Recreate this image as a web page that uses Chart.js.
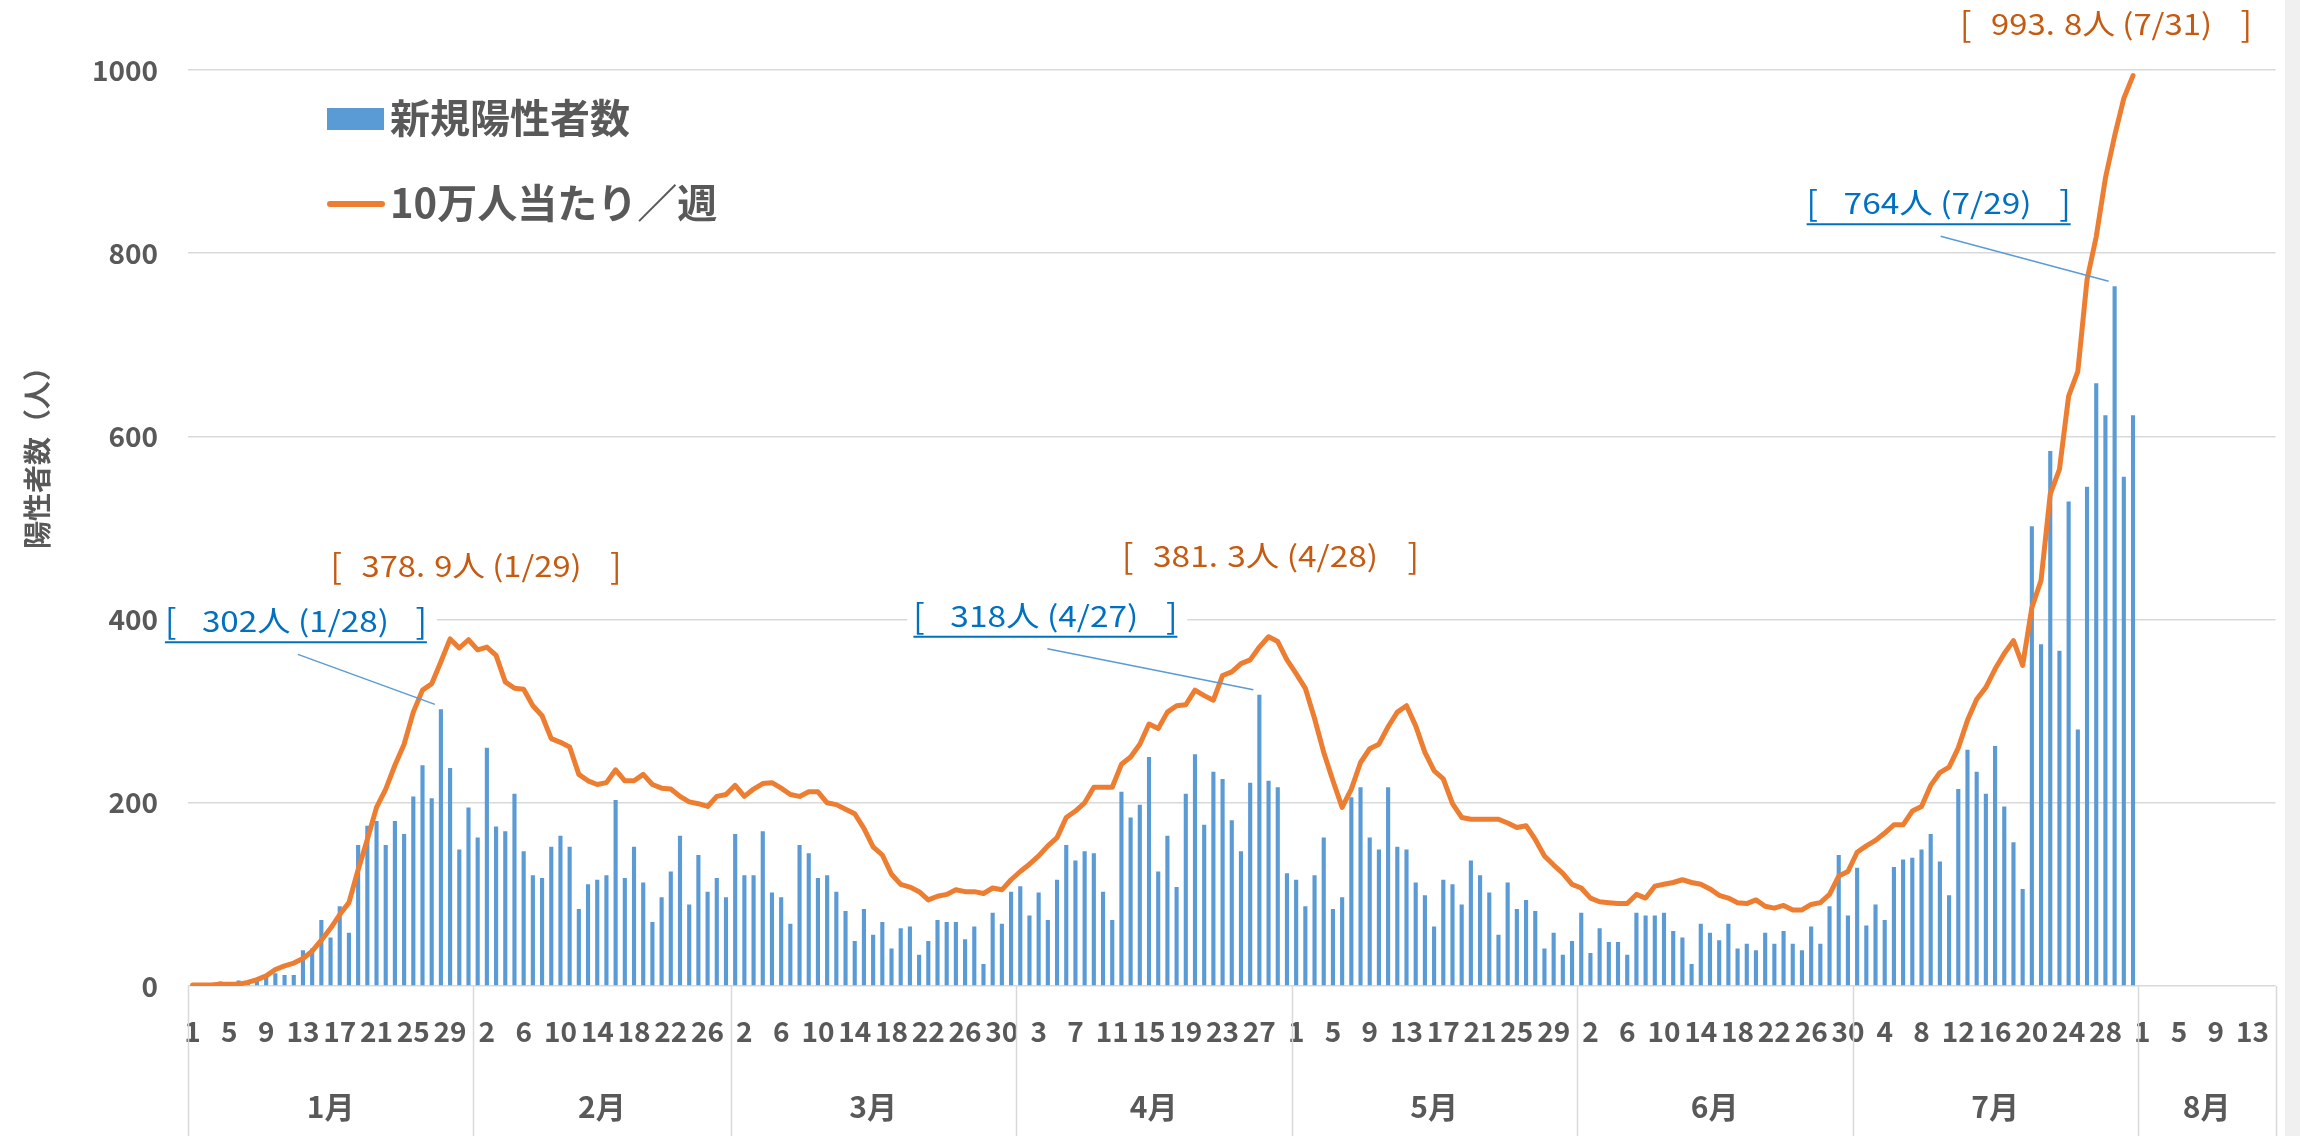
<!DOCTYPE html>
<html><head><meta charset="utf-8">
<script src="https://cdn.jsdelivr.net/npm/chart.js@4.4.1/dist/chart.umd.min.js"></script>
<style>
html,body{margin:0;padding:0;background:#fff;}
#wrap{position:relative;width:2300px;height:1136px;overflow:hidden;}
#edge{position:absolute;left:2285px;top:0;width:15px;height:1136px;background:#f0f0f0;}
</style></head><body>
<div id="wrap"><canvas id="c" width="2300" height="1136"></canvas><div id="edge"></div></div>
<script>
// ---------- data ----------
const MONTHS = ['1月','2月','3月','4月','5月','6月','7月','8月'];
const MONTH_DAYS = [31,28,31,30,31,30,31,15];
const TICK_STEP = 4;

const casesJan = [0,1,1,5,3,6,4,7,10,14,12,12,39,41,72,53,87,58,154,175,180,154,180,166,207,241,205,302,238,149,195];
const casesFeb = [162,260,174,169,210,147,121,118,152,164,152,84,111,116,121,203,118,152,113,70,97,125,164,89,143,103,118,97];
const casesMar = [166,121,121,169,102,97,68,154,145,118,121,103,82,49,84,56,70,41,63,65,34,49,72,70,70,51,65,24,80,68,103];
const casesApr = [109,77,102,72,116,154,137,147,145,103,72,212,184,198,250,125,164,108,210,253,176,234,226,181,147,222,318,224,217,123];
const casesMay = [116,87,121,162,84,97,206,217,162,149,217,152,149,113,99,65,116,111,89,137,121,102,56,113,84,94,82,41,58,34,49];
const casesJun = [80,36,63,48,48,34,80,77,77,80,60,53,24,68,58,50,68,41,46,39,58,46,60,46,39,65,46,87,143,77];
const casesJul = [129,66,89,72,130,138,140,149,166,136,99,215,258,234,210,262,196,157,106,502,373,584,366,529,280,545,658,623,764,556,623];

const rateJan = [1,1,1,2,2,2,4,7,11,18,22,25,30,38,50,63,78,91,127,160,195,215,241,264,299,323,330,354,378.9,369,378];
const rateFeb = [367,370,361,332,325,324,306,295,270,266,261,231,224,220,222,236,224,224,231,220,216,215,207,201,199,196,207,209];
const rateMar = [219,207,215,221,222,216,209,207,212,212,200,198,193,188,172,152,143,122,111,108,103,94,98,100,105,103,103,101,107,105,116];
const rateApr = [125,133,142,153,162,184,191,200,217,217,217,242,250,264,286,281,299,306,307,323,317,312,339,343,352,356,370,381.3,376,356];
const rateMay = [341,325,292,255,224,195,215,244,259,264,283,299,306,284,255,235,226,199,184,182,182,182,182,178,173,175,160,142,132,123,111];
const rateJun = [107,96,92,91,90,90,100,96,109,111,113,116,113,111,106,99,96,91,90,94,87,85,88,83,83,89,91,100,120,125];
const rateJul = [146,153,159,167,176,176,191,196,219,233,239,260,290,313,326,346,363,377,350,413,443,537,564,644,671,771,818,882,928,969,993.8];

const SERIES_BAR = '新規陽性者数';
const SERIES_LINE = '10万人当たり／週';
const Y_TITLE = '陽性者数（人）';

// annotation texts (value labels)
const NOTE_TEXTS = [
  {series:'bar',  month:0, day:28, text:'302人 (1/28)'},
  {series:'line', month:0, day:29, text:'378.\u20089人 (1/29)'},
  {series:'bar',  month:3, day:27, text:'318人 (4/27)'},
  {series:'line', month:3, day:28, text:'381.\u20083人 (4/28)'},
  {series:'bar',  month:6, day:29, text:'764人 (7/29)'},
  {series:'line', month:6, day:31, text:'993.\u20088人 (7/31)'}
];
// annotation layout (offsets from anchor, widths)
const NOTE_LAYOUT = [
  {dx:-145, dy:-88, w:262, inset:37, inner:187},
  {dx:26,   dy:-73, w:291, inset:31, inner:220},
  {dx:-214, dy:-79, w:264, inset:37, inner:188},
  {dx:2,    dy:-81, w:297, inset:31, inner:225},
  {dx:-176, dy:-83, w:264, inset:37, inner:188},
  {dx:-27,  dy:-52, w:292, inset:31, inner:221}
];

// ---------- build categories ----------
const dayLabels = [];
MONTH_DAYS.forEach((n)=>{ for(let d=1; d<=n; d++) dayLabels.push(String(d)); });
const augPad = new Array(MONTH_DAYS[7]).fill(null);
const barData = [].concat(casesJan,casesFeb,casesMar,casesApr,casesMay,casesJun,casesJul,augPad);
const lineData = [].concat(rateJan,rateFeb,rateMar,rateApr,rateMay,rateJun,rateJul,augPad);
function idxOf(m,d){ let s=0; for(let i=0;i<m;i++) s+=MONTH_DAYS[i]; return s+d-1; }

// ---------- styles ----------
const FONT = "'Noto Sans CJK JP','Noto Sans',sans-serif";
const C_BAR = '#5b9bd5', C_LINE = '#ed7d31', C_TEXT = '#595959', C_GRID = '#d9d9d9';
const C_NOTE_BAR = '#0070c0', C_NOTE_LINE = '#c55a11', C_LEADER = '#5b9bd5';

const decor = {
  id:'decor',
  afterDraw(chart){
    const {ctx, chartArea:ca, scales:{x,y}} = chart;
    ctx.save();
    // month separators + labels
    ctx.strokeStyle = C_GRID; ctx.lineWidth = 1.5;
    ctx.fillStyle = C_TEXT; ctx.font = 'bold 30px ' + FONT;
    ctx.textAlign = 'center'; ctx.textBaseline = 'middle';
    let start = 0;
    MONTH_DAYS.forEach((n,m)=>{
      const first = start, last = start + n - 1;
      const xl = m===0 ? ca.left : (x.getPixelForValue(first-1) + x.getPixelForValue(first))/2;
      const xr = m===MONTH_DAYS.length-1 ? ca.right : (x.getPixelForValue(last) + x.getPixelForValue(last+1))/2;
      ctx.beginPath(); ctx.moveTo(Math.round(xl)+0.5, ca.bottom); ctx.lineTo(Math.round(xl)+0.5, chart.height); ctx.stroke();
      if (m===MONTH_DAYS.length-1){ ctx.beginPath(); ctx.moveTo(Math.round(xr)+0.5, ca.bottom); ctx.lineTo(Math.round(xr)+0.5, chart.height); ctx.stroke(); }
      ctx.fillText(MONTHS[m], (xl+xr)/2, ca.bottom + 121);
      start += n;
    });

    // y axis title
    ctx.save();
    ctx.translate(37, 451); ctx.rotate(-Math.PI/2);
    ctx.font = 'bold 28px ' + FONT; ctx.fillStyle = C_TEXT;
    ctx.textAlign='center'; ctx.textBaseline='middle';
    ctx.fillText(Y_TITLE, 0, 0);
    ctx.restore();

    // legend
    const ds = chart.data.datasets;
    ctx.font = 'bold 40px ' + FONT; ctx.textAlign='left'; ctx.textBaseline='middle';
    ctx.fillStyle = ds[1].backgroundColor; ctx.fillRect(327, 108, 57, 22);
    ctx.fillStyle = C_TEXT; ctx.fillText(ds[1].label, 390, 118);
    ctx.strokeStyle = ds[0].borderColor; ctx.lineWidth = 6; ctx.lineCap='round';
    ctx.beginPath(); ctx.moveTo(330, 204); ctx.lineTo(382, 204); ctx.stroke();
    ctx.fillText(ds[0].label, 390, 203);

    // annotations
    NOTE_TEXTS.forEach((n,k)=>{
      const L = NOTE_LAYOUT[k];
      const i = idxOf(n.month, n.day);
      const isBar = n.series==='bar';
      const val = isBar ? barData[i] : lineData[i];
      const px = x.getPixelForValue(i), py = y.getPixelForValue(val);
      const cx = px + L.dx, cy = py + L.dy;
      const left = cx - L.w/2;
      const color = isBar ? C_NOTE_BAR : C_NOTE_LINE;
      if (isBar){
        ctx.fillStyle = '#ffffff';
        ctx.fillRect(left-6, cy-25, L.w+16, 52);
        ctx.strokeStyle = C_LEADER; ctx.lineWidth = 1.5; ctx.lineCap='butt';
        ctx.beginPath(); ctx.moveTo(cx+2, cy+33); ctx.lineTo(px-6, py-5); ctx.stroke();
      }
      ctx.fillStyle = color; ctx.textBaseline='middle';
      ctx.font = '34px ' + FONT; ctx.textAlign='left';
      ctx.fillText('[', left, cy);
      ctx.textAlign='right'; ctx.fillText(']', left + L.w, cy);
      ctx.font = '29px ' + FONT; ctx.textAlign='left';
      const mw = ctx.measureText(n.text).width;
      const sx = Math.max(0.8, Math.min(1.35, L.inner / mw));
      ctx.save();
      ctx.translate(left + L.inset, cy); ctx.scale(sx, 1);
      ctx.fillText(n.text, 0, 0);
      ctx.restore();
      if (isBar){
        ctx.strokeStyle = color; ctx.lineWidth = 2;
        ctx.beginPath(); ctx.moveTo(left, cy+21); ctx.lineTo(left+L.w, cy+21); ctx.stroke();
      }
    });
    ctx.restore();
  }
};

new Chart(document.getElementById('c'), {
  type:'bar',
  data:{
    labels: dayLabels,
    datasets:[
      {type:'line', label:SERIES_LINE, data:lineData, borderColor:C_LINE, backgroundColor:C_LINE, borderWidth:5,
       pointRadius:0, tension:0, order:0, borderJoinStyle:'round', borderCapStyle:'round', spanGaps:false},
      {type:'bar', label:SERIES_BAR, data:barData, backgroundColor:C_BAR, barPercentage:0.45, categoryPercentage:1, order:1}
    ]
  },
  options:{
    responsive:false, animation:false, devicePixelRatio:1,
    layout:{padding:{top:70, right:18, left:0, bottom:0}},
    plugins:{legend:{display:false}, tooltip:{enabled:false}},
    scales:{
      x:{type:'category', offset:true, grid:{display:false, drawTicks:false}, border:{display:false},
         ticks:{autoSkip:false, maxRotation:0, minRotation:0, padding:29, color:C_TEXT,
                font:{family:FONT, size:28, weight:'bold'},
                callback:(v,i)=> (i % TICK_STEP === 0 ? dayLabels[i] : '')},
         afterFit:(s)=>{ s.height = 150; }},
      y:{min:0, max:1000,
         ticks:{stepSize:200, padding:30, color:C_TEXT, font:{family:FONT, size:28, weight:'bold'},
                callback:(v)=> String(v)},
         grid:{color:C_GRID, lineWidth:1.5, drawTicks:false}, border:{display:false},
         afterFit:(s)=>{ s.width = 188; }}
    }
  },
  plugins:[decor]
});
</script>
</body></html>
